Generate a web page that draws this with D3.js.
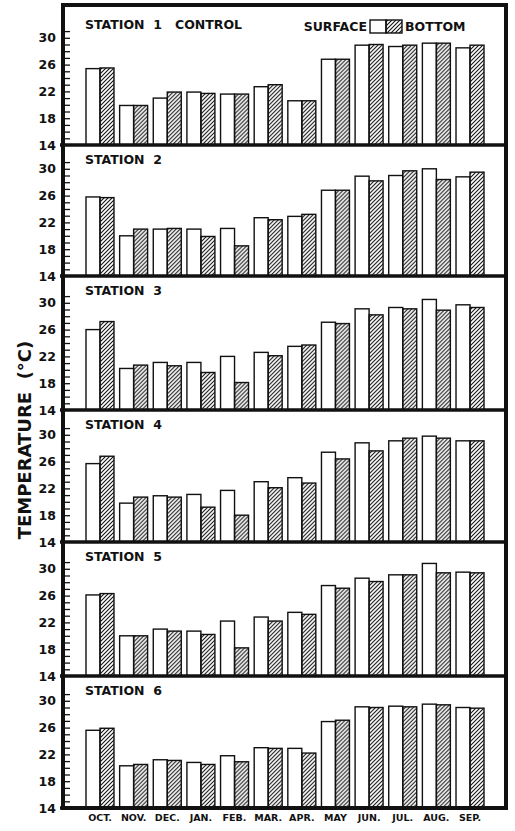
<!DOCTYPE html>
<html>
<head>
<meta charset="utf-8">
<script src="https://cdnjs.cloudflare.com/ajax/libs/d3/7.8.5/d3.min.js"></script>
<style>
  body { margin: 0; background: #fff; }
  svg text { font-family: "DejaVu Sans", sans-serif; font-weight: bold; fill: #111; }
  .domain { display: none; }
</style>
</head>
<body>
<div id="chart"></div>
<script>
// months along the bottom
var months = ["OCT.", "NOV.", "DEC.", "JAN.", "FEB.", "MAR.", "APR.", "MAY", "JUN.", "JUL.", "AUG.", "SEP."];
var stationNames = ["STATION  1   CONTROL", "STATION  2", "STATION  3", "STATION  4", "STATION  5", "STATION  6"];
var yTickLabels = [14, 18, 22, 26, 30];

// temperatures (deg C)
var s1Surface = [25.4, 19.9, 21.0, 21.9, 21.6, 22.7, 20.6, 26.8, 28.9, 28.7, 29.2, 28.5];
var s1Bottom  = [25.5, 19.9, 21.9, 21.7, 21.6, 23.0, 20.6, 26.8, 29.0, 28.9, 29.2, 28.9];
var s2Surface = [25.8, 20.0, 21.0, 21.0, 21.1, 22.7, 22.9, 26.8, 28.9, 29.0, 30.0, 28.8];
var s2Bottom  = [25.7, 21.0, 21.1, 19.9, 18.5, 22.4, 23.2, 26.8, 28.2, 29.7, 28.4, 29.5];
var s3Surface = [26.0, 20.2, 21.1, 21.1, 22.0, 22.6, 23.5, 27.1, 29.1, 29.3, 30.5, 29.7];
var s3Bottom  = [27.2, 20.7, 20.6, 19.6, 18.1, 22.1, 23.7, 26.9, 28.2, 29.1, 28.9, 29.3];
var s4Surface = [25.7, 19.8, 20.9, 21.1, 21.7, 23.0, 23.6, 27.4, 28.8, 29.1, 29.8, 29.1];
var s4Bottom  = [26.8, 20.7, 20.7, 19.2, 18.0, 22.1, 22.8, 26.4, 27.6, 29.5, 29.5, 29.1];
var s5Surface = [26.1, 20.0, 21.0, 20.7, 22.2, 22.8, 23.5, 27.5, 28.6, 29.1, 30.8, 29.5];
var s5Bottom  = [26.3, 20.0, 20.7, 20.2, 18.2, 22.2, 23.2, 27.1, 28.1, 29.1, 29.4, 29.4];
var s6Surface = [25.6, 20.3, 21.2, 20.8, 21.8, 23.0, 22.9, 26.9, 29.1, 29.2, 29.5, 29.0];
var s6Bottom  = [25.9, 20.5, 21.1, 20.5, 20.9, 22.9, 22.2, 27.1, 29.0, 29.1, 29.4, 28.9];

var surfaceData = [s1Surface, s2Surface, s3Surface, s4Surface, s5Surface, s6Surface];
var bottomData  = [s1Bottom, s2Bottom, s3Bottom, s4Bottom, s5Bottom, s6Bottom];

var width = 515, height = 831;
var frameLeft = 63, frameRight = 506;
// panel edges (top of frame, then each panel's base line)
var edges = [5, 145, 276, 410, 542, 676, 808];
var pxPerDeg = 6.7;

var svg = d3.select("#chart")
  .append("svg")
    .attr("width", width)
    .attr("height", height);

var defs = svg.append("defs");
defs.append("pattern")
    .attr("id", "hatch")
    .attr("patternUnits", "userSpaceOnUse")
    .attr("width", 4)
    .attr("height", 4)
  .append("path")
    .attr("d", "M-1,1 l2,-2 M0,4 l4,-4 M3,5 l2,-2")
    .attr("stroke", "#111")
    .attr("stroke-width", 1.1);

var x = d3.scaleBand()
    .domain(months)
    .range([86, 484])
    .paddingInner(0.168)
    .paddingOuter(0);

var xSub = d3.scaleBand()
    .domain(["surface", "bottom"])
    .range([0, x.bandwidth()]);

stationNames.forEach(function(name, i) {
  var base = edges[i + 1];
  var top = edges[i];
  var y = d3.scaleLinear()
      .domain([14, 30])
      .range([base, base - 16 * pxPerDeg]);

  var g = svg.append("g");

  // minor ticks every degree, pointing into the panel
  g.append("g")
      .attr("transform", "translate(" + (frameLeft + 1) + ",0)")
      .call(d3.axisRight(y).tickValues(d3.range(15, 32)).tickSize(6).tickFormat(""))
      .selectAll("line").attr("stroke", "#111").attr("stroke-width", 1.3);

  // tick labels
  g.append("g")
      .attr("transform", "translate(" + (frameLeft - 4) + ",0)")
      .call(d3.axisLeft(y).tickValues(yTickLabels).tickSize(0).tickPadding(3))
      .call(function(a) {
        a.selectAll("text")
          .style("font-size", "12.5px")
          .style("font-family", "DejaVu Sans, sans-serif")
          .style("font-weight", "bold")
          .attr("fill", "#111");
      });

  var groups = g.selectAll(".month")
    .data(months)
    .enter().append("g")
      .attr("transform", function(m) { return "translate(" + x(m) + ",0)"; });

  groups.append("rect")
      .attr("x", xSub("surface"))
      .attr("y", function(m, j) { return y(surfaceData[i][j]); })
      .attr("width", xSub.bandwidth())
      .attr("height", function(m, j) { return base - y(surfaceData[i][j]); })
      .attr("fill", "#fff")
      .attr("stroke", "#111")
      .attr("stroke-width", 1.4);

  groups.append("rect")
      .attr("x", xSub("bottom"))
      .attr("y", function(m, j) { return y(bottomData[i][j]); })
      .attr("width", xSub.bandwidth())
      .attr("height", function(m, j) { return base - y(bottomData[i][j]); })
      .attr("fill", "url(#hatch)")
      .attr("stroke", "#111")
      .attr("stroke-width", 1.4);

  // station name
  g.append("text")
      .attr("x", 85)
      .attr("y", top + (i == 0 ? 23.5 : 18.5))
      .style("font-size", "12.5px")
      .style("white-space", "pre")
      .text(name);

  // panel base line
  g.append("line")
      .attr("x1", frameLeft - 3).attr("x2", frameRight)
      .attr("y1", base).attr("y2", base)
      .attr("stroke", "#111")
      .attr("stroke-width", 3.5);
});

// outer frame
svg.append("rect")
    .attr("x", frameLeft)
    .attr("y", edges[0])
    .attr("width", frameRight - frameLeft)
    .attr("height", edges[6] - edges[0])
    .attr("fill", "none")
    .attr("stroke", "#111")
    .attr("stroke-width", 4);

// legend
svg.append("text")
    .attr("x", 367).attr("y", 30.5)
    .attr("text-anchor", "end")
    .style("font-size", "12.5px")
    .text("SURFACE");
svg.append("rect")
    .attr("x", 370).attr("y", 20).attr("width", 16).attr("height", 13)
    .attr("fill", "#fff").attr("stroke", "#111").attr("stroke-width", 1.4);
svg.append("rect")
    .attr("x", 386).attr("y", 20).attr("width", 16).attr("height", 13)
    .attr("fill", "url(#hatch)").attr("stroke", "#111").attr("stroke-width", 1.4);
svg.append("text")
    .attr("x", 405).attr("y", 30.5)
    .style("font-size", "12.5px")
    .text("BOTTOM");

// month labels
svg.append("g")
    .attr("transform", "translate(0," + edges[6] + ")")
    .call(d3.axisBottom(x).tickSize(0).tickPadding(6))
    .call(function(a) {
      a.selectAll("text")
        .style("font-size", "9.5px")
        .style("font-family", "DejaVu Sans, sans-serif")
        .style("font-weight", "bold")
        .attr("fill", "#111");
    });

// y title
svg.append("text")
    .attr("transform", "translate(31,440) rotate(-90)")
    .attr("text-anchor", "middle")
    .style("font-size", "18px")
    .style("white-space", "pre")
    .text("TEMPERATURE  (°C)");
</script>
</body>
</html>
